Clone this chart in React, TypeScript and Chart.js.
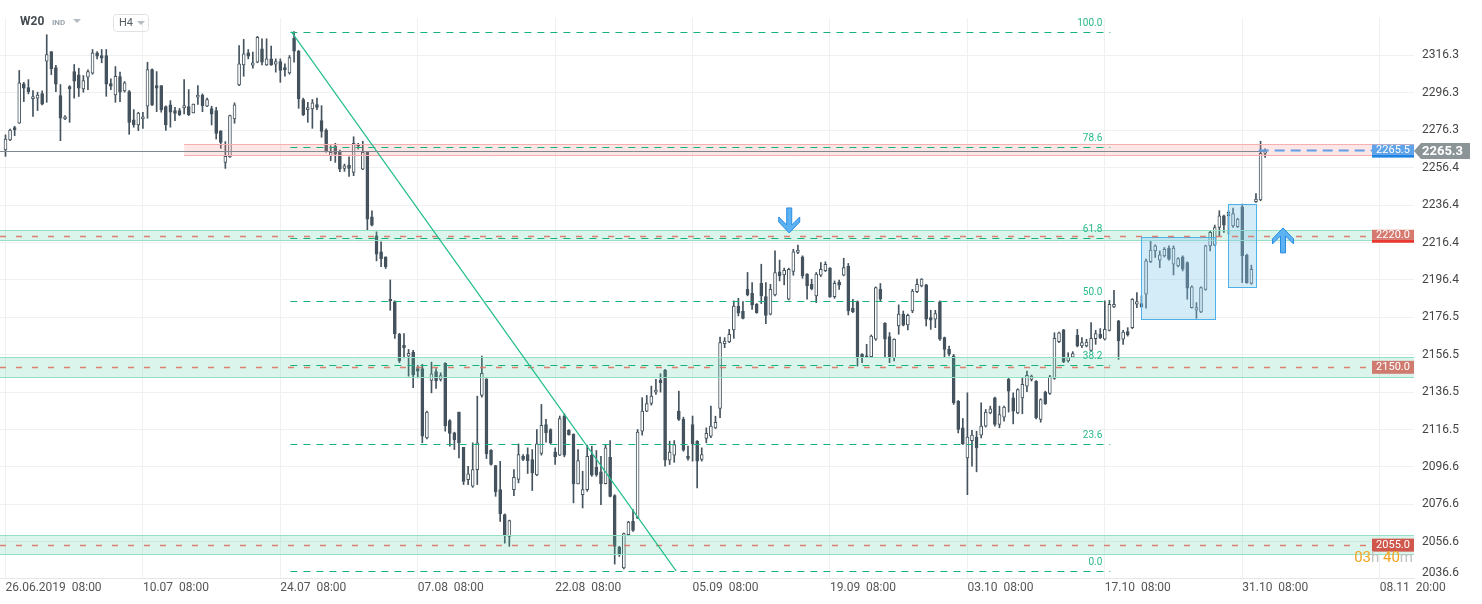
import { useEffect, useRef } from 'react';
import { Chart, registerables } from 'chart.js';

Chart.register(...registerables);

// ---------- data (H4 candles, W20) ----------
const OPEN = [
  2265.8, 2271.2, 2277.8, 2280.1, 2301.1, 2299.2, 2293.3, 2293.5, 2296.0, 2313.3,
  2318.4, 2309.9, 2294.9, 2282.4, 2299.7, 2307.7, 2306.0, 2298.5, 2304.7, 2306.9,
  2317.7, 2316.3, 2316.3, 2301.3, 2295.3, 2305.0, 2297.4, 2297.0, 2281.9, 2279.2,
  2282.4, 2289.2, 2308.8, 2300.2, 2300.2, 2289.0, 2289.9, 2286.9, 2286.9, 2288.3,
  2289.0, 2285.6, 2294.0, 2295.2, 2289.2, 2287.9, 2286.9, 2276.1, 2259.2, 2262.1,
  2282.4, 2300.6, 2311.3, 2317.7, 2311.1, 2312.7, 2319.9, 2311.3, 2314.5, 2311.7,
  2313.1, 2309.9, 2307.0, 2325.6, 2318.6, 2292.8, 2287.4, 2287.8, 2290.1, 2281.5,
  2276.5, 2262.8, 2267.8, 2264.6, 2256.0, 2257.8, 2253.9, 2269.0, 2255.6, 2264.6,
  2230.1, 2220.0, 2211.4, 2208.7, 2186.1, 2184.8, 2167.3, 2161.5, 2155.7, 2157.9,
  2149.0, 2149.0, 2112.0, 2142.7, 2147.4, 2143.2, 2151.8, 2121.3, 2114.7, 2125.8,
  2107.0, 2089.7, 2086.2, 2095.1, 2134.7, 2143.6, 2105.4, 2097.2, 2084.4, 2071.0,
  2059.4, 2084.4, 2089.8, 2102.2, 2103.1, 2100.5, 2092.3, 2103.7, 2119.2, 2116.5,
  2104.4, 2102.8, 2123.7, 2116.0, 2113.9, 2087.4, 2081.7, 2084.4, 2102.8, 2096.4,
  2093.9, 2087.6, 2101.7, 2081.2, 2053.7, 2042.5, 2060.3, 2067.5, 2069.2, 2115.6,
  2126.3, 2130.4, 2136.5, 2142.9, 2148.1, 2100.1, 2102.8, 2126.3, 2121.9, 2102.2,
  2119.2, 2110.3, 2100.5, 2111.7, 2113.0, 2117.4, 2127.8, 2162.4, 2163.3, 2169.7,
  2182.5, 2179.8, 2191.4, 2189.3, 2183.4, 2194.6, 2187.5, 2178.1, 2188.4, 2200.7,
  2199.1, 2186.1, 2200.9, 2211.1, 2208.7, 2199.5, 2194.1, 2187.9, 2198.9, 2201.3,
  2202.7, 2187.5, 2195.3, 2198.9, 2203.7, 2181.3, 2184.8, 2156.7, 2155.8, 2155.4,
  2164.7, 2191.4, 2173.2, 2166.1, 2154.9, 2171.8, 2178.1, 2172.4, 2179.8, 2190.2,
  2193.2, 2193.8, 2176.3, 2175.4, 2184.7, 2165.6, 2159.3, 2155.8, 2131.7, 2117.4,
  2101.3, 2110.6, 2112.4, 2113.5, 2118.3, 2125.4, 2133.4, 2119.2, 2123.1, 2143.3,
  2133.4, 2125.4, 2133.4, 2139.7, 2143.3, 2142.4, 2121.9, 2136.5, 2135.8, 2143.8,
  2163.4, 2169.7, 2153.1, 2155.2, 2166.8, 2161.1, 2161.1, 2158.8, 2165.0, 2167.3,
  2164.7, 2169.5, 2182.0, 2174.5, 2164.7, 2168.8, 2170.9, 2183.4, 2183.8, 2188.8,
  2206.1, 2211.9, 2207.0, 2209.3, 2213.4, 2204.8, 2203.9, 2208.7, 2205.7, 2181.6,
  2180.2, 2179.3, 2191.4, 2214.6, 2215.0, 2224.4, 2230.7, 2230.7, 2225.3, 2224.8,
  2235.5, 2209.6, 2194.6, 2238.2, 2239.1, 2264.0,
];
const HIGH = [
  2273.9, 2277.0, 2278.5, 2308.3, 2302.0, 2303.4, 2297.6, 2296.7, 2297.4, 2327.4,
  2318.4, 2311.0, 2300.8, 2284.2, 2300.2, 2311.5, 2309.5, 2305.6, 2308.6, 2319.5,
  2318.4, 2319.5, 2319.5, 2303.8, 2310.4, 2307.4, 2302.4, 2297.6, 2287.4, 2286.0,
  2286.0, 2312.7, 2309.2, 2307.7, 2300.2, 2289.4, 2292.2, 2288.6, 2288.0, 2303.4,
  2298.1, 2290.4, 2300.2, 2295.8, 2293.5, 2289.2, 2288.6, 2276.1, 2270.3, 2284.5,
  2291.0, 2321.6, 2324.9, 2319.5, 2318.1, 2326.5, 2325.2, 2325.2, 2321.3, 2314.5,
  2314.5, 2311.8, 2316.3, 2329.1, 2319.0, 2293.5, 2291.3, 2292.8, 2293.5, 2289.5,
  2277.1, 2268.1, 2269.4, 2265.8, 2258.3, 2262.2, 2272.9, 2269.4, 2270.5, 2264.6,
  2233.3, 2222.1, 2216.7, 2208.7, 2196.4, 2185.2, 2167.9, 2167.7, 2159.3, 2158.8,
  2150.7, 2151.3, 2126.3, 2152.5, 2149.0, 2146.8, 2152.2, 2121.8, 2115.1, 2125.8,
  2107.0, 2096.9, 2109.4, 2134.3, 2155.7, 2143.6, 2105.8, 2097.4, 2099.5, 2071.4,
  2068.1, 2095.1, 2108.8, 2103.1, 2106.7, 2105.8, 2116.5, 2129.9, 2121.9, 2116.9,
  2106.7, 2123.7, 2124.9, 2116.5, 2114.2, 2105.8, 2094.2, 2108.1, 2107.6, 2105.3,
  2102.2, 2108.5, 2110.6, 2081.7, 2054.1, 2061.2, 2067.5, 2073.7, 2116.5, 2133.5,
  2134.7, 2139.7, 2143.3, 2146.3, 2148.6, 2110.3, 2110.6, 2137.0, 2123.1, 2107.6,
  2123.7, 2110.6, 2106.7, 2117.4, 2129.0, 2123.6, 2165.9, 2165.6, 2170.0, 2185.2,
  2186.6, 2184.8, 2200.4, 2195.0, 2183.8, 2204.8, 2195.0, 2194.1, 2211.9, 2207.0,
  2202.7, 2202.7, 2212.8, 2215.0, 2209.3, 2199.8, 2196.8, 2200.4, 2205.7, 2206.1,
  2203.0, 2195.9, 2196.3, 2208.0, 2205.2, 2186.1, 2185.2, 2157.0, 2162.0, 2167.0,
  2192.7, 2194.5, 2173.6, 2168.3, 2165.0, 2183.1, 2179.8, 2178.1, 2191.4, 2196.8,
  2197.1, 2194.1, 2180.2, 2180.2, 2185.2, 2165.9, 2161.1, 2156.6, 2132.0, 2122.4,
  2136.1, 2116.0, 2115.6, 2130.8, 2127.2, 2129.0, 2133.8, 2129.0, 2129.0, 2143.8,
  2136.1, 2138.3, 2144.2, 2147.7, 2145.6, 2142.7, 2132.9, 2137.0, 2145.4, 2168.2,
  2168.6, 2170.0, 2157.5, 2158.1, 2170.0, 2165.6, 2164.7, 2173.6, 2169.5, 2170.4,
  2185.2, 2185.5, 2190.9, 2174.8, 2169.5, 2170.9, 2186.4, 2189.6, 2187.9, 2207.5,
  2217.3, 2215.2, 2211.9, 2213.7, 2214.6, 2214.6, 2208.4, 2209.3, 2206.1, 2193.2,
  2184.3, 2192.7, 2215.0, 2222.7, 2225.7, 2233.4, 2231.0, 2233.4, 2234.8, 2229.4,
  2236.9, 2210.2, 2204.3, 2242.6, 2270.5, 2266.4,
];
const LOW = [
  2262.4, 2270.8, 2273.5, 2280.0, 2291.7, 2295.8, 2283.8, 2286.9, 2289.9, 2291.3,
  2306.1, 2297.0, 2270.8, 2282.0, 2280.6, 2293.5, 2294.4, 2296.7, 2298.1, 2306.3,
  2314.5, 2312.4, 2294.5, 2298.1, 2291.3, 2291.7, 2296.7, 2274.2, 2278.0, 2276.2,
  2277.4, 2282.8, 2289.5, 2286.3, 2286.0, 2276.3, 2278.0, 2281.5, 2284.2, 2285.1,
  2284.2, 2285.6, 2290.1, 2286.3, 2289.0, 2279.2, 2271.7, 2266.7, 2256.0, 2261.9,
  2280.1, 2300.2, 2305.2, 2314.5, 2309.5, 2312.4, 2311.3, 2311.0, 2311.0, 2307.4,
  2302.0, 2305.2, 2306.3, 2312.7, 2288.1, 2284.2, 2280.6, 2277.4, 2287.4, 2272.6,
  2264.6, 2260.1, 2259.2, 2254.2, 2254.4, 2251.7, 2252.1, 2266.3, 2255.3, 2223.0,
  2225.3, 2206.6, 2203.5, 2202.5, 2180.2, 2165.2, 2152.2, 2154.8, 2145.0, 2138.8,
  2144.1, 2109.4, 2111.5, 2136.1, 2138.4, 2142.4, 2115.6, 2107.6, 2105.8, 2101.3,
  2087.1, 2087.1, 2085.6, 2087.1, 2133.8, 2101.0, 2097.4, 2080.8, 2067.4, 2055.8,
  2054.1, 2081.2, 2088.0, 2099.9, 2093.0, 2083.9, 2091.9, 2102.8, 2109.7, 2108.8,
  2097.8, 2102.6, 2101.9, 2113.5, 2077.3, 2087.4, 2074.6, 2083.5, 2091.5, 2091.5,
  2076.4, 2087.4, 2080.5, 2044.6, 2048.7, 2042.0, 2060.0, 2062.1, 2068.9, 2113.5,
  2126.0, 2129.5, 2135.3, 2136.5, 2096.9, 2097.8, 2099.0, 2121.3, 2104.9, 2100.1,
  2099.6, 2085.3, 2099.6, 2109.4, 2112.1, 2117.0, 2122.8, 2160.2, 2162.9, 2165.2,
  2177.2, 2175.6, 2187.9, 2180.7, 2178.6, 2183.8, 2173.1, 2177.7, 2187.9, 2195.9,
  2193.8, 2185.7, 2198.9, 2210.5, 2197.3, 2186.1, 2191.1, 2184.3, 2198.2, 2200.9,
  2187.0, 2186.6, 2191.3, 2198.6, 2177.7, 2178.9, 2150.4, 2152.2, 2154.9, 2154.9,
  2164.1, 2185.2, 2155.2, 2152.2, 2153.1, 2167.4, 2171.8, 2169.7, 2178.9, 2189.6,
  2192.7, 2171.8, 2170.0, 2170.9, 2164.1, 2155.2, 2155.8, 2129.9, 2114.7, 2108.5,
  2081.7, 2096.9, 2093.9, 2112.0, 2117.8, 2124.9, 2118.3, 2117.4, 2121.0, 2125.8,
  2119.5, 2124.9, 2124.9, 2136.7, 2142.4, 2122.2, 2120.4, 2129.9, 2135.2, 2143.3,
  2162.9, 2152.2, 2152.5, 2154.9, 2160.6, 2160.2, 2160.6, 2158.4, 2162.0, 2165.0,
  2164.3, 2169.1, 2181.6, 2154.0, 2162.0, 2166.4, 2170.4, 2181.6, 2181.6, 2181.3,
  2205.7, 2208.4, 2203.0, 2208.7, 2207.0, 2199.1, 2203.4, 2201.2, 2186.1, 2181.3,
  2175.9, 2178.9, 2190.9, 2211.9, 2214.6, 2220.0, 2221.8, 2220.9, 2224.4, 2224.4,
  2195.0, 2194.6, 2194.1, 2237.8, 2238.7, 2261.9,
];
const CLOSE = [
  2271.7, 2276.5, 2276.5, 2301.7, 2298.8, 2297.0, 2294.4, 2295.2, 2290.3, 2316.8,
  2309.2, 2301.0, 2282.8, 2283.6, 2298.5, 2302.6, 2298.8, 2302.9, 2307.7, 2317.7,
  2316.0, 2314.9, 2301.0, 2299.9, 2305.2, 2296.7, 2301.7, 2280.6, 2279.2, 2285.6,
  2283.5, 2308.8, 2289.9, 2298.8, 2287.2, 2279.2, 2286.0, 2285.4, 2284.7, 2289.5,
  2284.7, 2290.4, 2295.2, 2289.5, 2292.7, 2284.9, 2274.7, 2269.9, 2262.4, 2284.2,
  2289.9, 2311.8, 2317.2, 2316.0, 2312.4, 2326.0, 2312.7, 2314.5, 2311.3, 2313.1,
  2308.3, 2308.6, 2315.2, 2318.6, 2293.1, 2284.7, 2288.5, 2291.0, 2288.6, 2275.8,
  2265.1, 2264.6, 2263.7, 2255.6, 2257.4, 2256.0, 2269.4, 2267.8, 2264.6, 2228.9,
  2225.7, 2210.2, 2207.8, 2203.5, 2185.2, 2167.7, 2153.1, 2160.2, 2157.2, 2145.6,
  2147.7, 2112.9, 2125.8, 2146.3, 2142.4, 2145.3, 2118.6, 2114.4, 2111.1, 2109.4,
  2088.8, 2092.8, 2095.1, 2109.4, 2146.5, 2103.6, 2097.8, 2083.1, 2071.5, 2059.9,
  2067.8, 2091.0, 2103.1, 2100.5, 2099.9, 2093.3, 2108.8, 2118.8, 2114.7, 2109.4,
  2101.9, 2122.4, 2102.8, 2113.7, 2087.4, 2099.9, 2084.4, 2102.2, 2092.1, 2092.4,
  2087.6, 2106.7, 2080.8, 2054.1, 2050.2, 2060.9, 2067.1, 2062.6, 2115.1, 2126.3,
  2130.4, 2134.4, 2137.6, 2141.5, 2100.1, 2104.4, 2108.5, 2121.9, 2105.5, 2101.0,
  2109.0, 2099.6, 2103.1, 2114.4, 2118.3, 2120.4, 2162.9, 2163.8, 2167.3, 2182.5,
  2178.6, 2175.9, 2188.4, 2182.9, 2178.9, 2187.9, 2177.5, 2191.4, 2200.4, 2198.6,
  2201.6, 2202.1, 2211.4, 2212.3, 2198.6, 2193.2, 2191.8, 2199.5, 2202.1, 2204.8,
  2187.3, 2194.6, 2193.6, 2203.0, 2179.8, 2179.3, 2155.4, 2154.9, 2154.9, 2166.4,
  2192.3, 2186.1, 2164.7, 2155.2, 2164.7, 2178.1, 2172.2, 2177.5, 2190.5, 2194.1,
  2196.8, 2175.4, 2174.9, 2178.4, 2164.7, 2159.3, 2156.7, 2130.8, 2116.5, 2108.8,
  2112.4, 2113.5, 2106.7, 2118.3, 2125.8, 2127.6, 2119.2, 2124.5, 2128.5, 2137.0,
  2126.3, 2137.9, 2140.6, 2145.4, 2145.0, 2122.8, 2132.5, 2130.2, 2144.7, 2165.2,
  2168.2, 2152.7, 2154.9, 2157.0, 2161.1, 2162.9, 2163.2, 2165.2, 2167.7, 2165.6,
  2170.0, 2183.4, 2183.4, 2163.8, 2168.6, 2167.0, 2186.1, 2184.8, 2182.0, 2206.6,
  2212.3, 2214.6, 2209.8, 2212.8, 2207.5, 2213.4, 2207.8, 2202.1, 2192.0, 2192.7,
  2181.6, 2192.3, 2214.6, 2221.8, 2224.4, 2230.7, 2225.7, 2232.5, 2231.9, 2228.9,
  2209.3, 2195.0, 2202.1, 2239.6, 2264.0, 2265.3,
];

const X_TICK_INDEX = [0, 30, 60, 90, 120, 150, 180, 210, 240, 270, 300];
const X_TICK_LABELS = [
  '26.06.2019  08:00', '10.07  08:00', '24.07  08:00', '07.08  08:00', '22.08  08:00',
  '05.09  08:00', '19.09  08:00', '03.10  08:00', '17.10  08:00', '31.10  08:00', '08.11  20:00',
];
const Y_TICK_LABELS = [
  '2316.3', '2296.3', '2276.3', '2256.4', '2236.4', '2216.4', '2196.4', '2176.5',
  '2156.5', '2136.5', '2116.5', '2096.6', '2076.6', '2056.6', '2036.6',
];

// horizontal levels (support/resistance) with their labels
const LEVELS = [2220.0, 2150.0, 2055.0];
const LEVEL_LABELS = ['2220.0', '2150.0', '2055.0'];
// zones
const ZONE_LOW = [2263.2, 2217.8, 2144.5, 2050.2];
const ZONE_HIGH = [2269.0, 2223.2, 2155.0, 2060.3];
const ZONE_FROM = [39.0, -2, -2, -2];
// Fibonacci retracement
const FIB_HIGH = 2329.1;
const FIB_LOW = 2041.0;
const FIB_FROM = 62.2;
const FIB_TO = 241.2;
const FIB_RATIOS = [1, 0.786, 0.618, 0.5, 0.382, 0.236, 0];
const FIB_LABELS = ['100.0', '78.6', '61.8', '50.0', '38.2', '23.6', '0.0'];
// trend line
const TREND_FROM = [62.4, 2329.1];
const TREND_TO = [146.4, 2041.0];
// rectangles
const RECT_X0 = [247.9, 267.0];
const RECT_X1 = [264.1, 273.0];
const RECT_TOP = [2219.5, 2237.0];
const RECT_BOTTOM = [2175.4, 2192.5];
// arrows (price = tip of the arrow)
const ARROW_INDEX = [171.1, 278.9];
const ARROW_PRICE = [2221.5, 2224.2];
const ARROW_DIR = ['down', 'up'];
// prices
const LAST_PRICE = 2265.3;
const ALERT_PRICE = 2265.5;
const ALERT_FROM = 273.6;
const COUNTDOWN = ['03', 'h', ' 40', 'm'];

const X_MIN = -1.2;
const X_MAX = 307.5;
const Y_MIN = 2037.18;
const Y_MAX = 2336.33;

const CANDLE = '#44535e';
const FONT = 'Roboto, "Noto Sans", sans-serif';
// arrow outline, tip at (0,0), body extends along +dy
const ARROW_SHAPE = [
  [0, 0], [10.5, 11], [10.5, 16], [2.5, 8], [2.5, 25],
  [-2.5, 25], [-2.5, 8], [-10.5, 16], [-10.5, 11],
];

const overlay = {
  id: 'overlay',
  afterDatasetsDraw(chart: any) {
    const { ctx, chartArea: a, scales } = chart;
    const sx = scales.x;
    const sy = scales.y;
    const X = (v: number) => sx.getPixelForValue(v);
    const Y = (v: number) => sy.getPixelForValue(v);
    const hline = (x0: number, x1: number, yy: number) => {
      ctx.beginPath();
      ctx.moveTo(x0, yy);
      ctx.lineTo(x1, yy);
      ctx.stroke();
    };
    const boxW = 42;
    ctx.save();

    // zones
    ZONE_LOW.forEach((lo, k) => {
      const x0 = Math.max(a.left, X(ZONE_FROM[k]));
      const yT = Math.round(Y(ZONE_HIGH[k])) + 0.5;
      const yB = Math.round(Y(lo)) + 0.5;
      const pink = k === 0;
      ctx.fillStyle = pink ? 'rgba(245,140,140,0.22)' : 'rgba(80,205,160,0.2)';
      ctx.fillRect(x0, yT, a.right - x0, yB - yT);
      ctx.strokeStyle = pink ? '#f5b1b1' : '#94e0c3';
      ctx.lineWidth = 1;
      ctx.setLineDash([]);
      hline(x0, a.right, yT);
      hline(x0, a.right, yB);
    });

    // rectangles
    RECT_X0.forEach((x0v, k) => {
      const x0 = Math.round(X(x0v)) + 0.5;
      const x1 = Math.round(X(RECT_X1[k])) + 0.5;
      const y0 = Math.round(Y(RECT_TOP[k])) + 0.5;
      const y1 = Math.round(Y(RECT_BOTTOM[k])) + 0.5;
      ctx.fillStyle = 'rgba(135,200,236,0.36)';
      ctx.fillRect(x0, y0, x1 - x0, y1 - y0);
      ctx.strokeStyle = '#4db2e8';
      ctx.lineWidth = 1;
      ctx.strokeRect(x0, y0, x1 - x0, y1 - y0);
    });

    // red dashed levels
    ctx.setLineDash([6, 10]);
    ctx.strokeStyle = 'rgba(222,115,102,0.9)';
    ctx.lineWidth = 1.5;
    LEVELS.forEach((lv) => hline(a.left, a.right - boxW, Math.round(Y(lv)) + 0.5));

    // fib levels
    ctx.setLineDash([7, 6]);
    ctx.strokeStyle = '#14b27c';
    ctx.lineWidth = 1;
    ctx.font = `10px ${FONT}`;
    ctx.fillStyle = '#27b88a';
    ctx.textAlign = 'right';
    ctx.textBaseline = 'middle';
    FIB_RATIOS.forEach((r, k) => {
      const p = FIB_LOW + r * (FIB_HIGH - FIB_LOW);
      const yy = Math.round(Y(p)) + 0.5;
      ctx.strokeStyle = '#14b27c';
      hline(X(FIB_FROM), X(FIB_TO), yy);
      ctx.fillText(FIB_LABELS[k], X(FIB_TO) - 8, yy - 9);
    });
    ctx.setLineDash([]);

    // trend line
    ctx.strokeStyle = '#21bd8b';
    ctx.lineWidth = 1.2;
    ctx.beginPath();
    ctx.moveTo(X(TREND_FROM[0]), Y(TREND_FROM[1]));
    ctx.lineTo(X(TREND_TO[0]), Y(TREND_TO[1]));
    ctx.stroke();

    // last price line
    ctx.strokeStyle = '#7e8a90';
    ctx.lineWidth = 1;
    hline(a.left, X(OPEN.length - 1) + 2, Math.round(Y(LAST_PRICE)) + 0.5);

    // alert dashed line
    ctx.setLineDash([10, 6]);
    ctx.strokeStyle = '#5d9fe6';
    ctx.lineWidth = 2;
    hline(X(ALERT_FROM), a.right - boxW, Y(ALERT_PRICE));
    ctx.setLineDash([]);

    // level label boxes
    const drawTag = (yc: number, text: string, bg: string, bar: string | null) => {
      const x0 = a.right - boxW;
      ctx.fillStyle = bg;
      if (bar) {
        ctx.fillRect(x0, yc - 6, boxW, 10);
        ctx.fillStyle = bar;
        ctx.fillRect(x0, yc + 4, boxW, 3);
      } else {
        ctx.fillRect(x0, yc - 6, boxW, 13);
      }
      ctx.fillStyle = '#ffffff';
      ctx.font = `11px ${FONT}`;
      ctx.textAlign = 'center';
      ctx.textBaseline = 'middle';
      ctx.fillText(text, x0 + boxW / 2, bar ? yc - 0.5 : yc + 0.5);
    };
    drawTag(Y(ALERT_PRICE), ALERT_PRICE.toFixed(1), '#5fa3e8', '#1e85e4');
    const tagBg = ['#d67a70', '#cf7b70', '#d0574c'];
    LEVELS.forEach((lv, k) => drawTag(Y(lv), LEVEL_LABELS[k], tagBg[k], k === 0 ? '#e8382f' : null));

    // arrows
    ARROW_INDEX.forEach((iv, k) => {
      const cx = X(iv);
      const ty = Y(ARROW_PRICE[k]);
      const dir = ARROW_DIR[k] === 'down' ? -1 : 1;
      ctx.beginPath();
      ARROW_SHAPE.forEach(([dx, dy], j) => {
        const px = cx + dx;
        const py = ty + dir * dy;
        if (j === 0) ctx.moveTo(px, py);
        else ctx.lineTo(px, py);
      });
      ctx.closePath();
      ctx.fillStyle = '#5db2f2';
      ctx.fill();
      ctx.strokeStyle = '#2a8ce2';
      ctx.lineWidth = 1;
      ctx.stroke();
    });

    // current price tag on axis
    const yp = Y(LAST_PRICE);
    ctx.fillStyle = '#8b9497';
    ctx.beginPath();
    ctx.moveTo(a.right, yp);
    ctx.lineTo(a.right + 7, yp - 8);
    ctx.lineTo(a.right + 56, yp - 8);
    ctx.lineTo(a.right + 56, yp + 8);
    ctx.lineTo(a.right + 7, yp + 8);
    ctx.closePath();
    ctx.fill();
    ctx.fillStyle = '#ffffff';
    ctx.font = `bold 13px ${FONT}`;
    ctx.textAlign = 'left';
    ctx.textBaseline = 'middle';
    ctx.fillText(LAST_PRICE.toFixed(1), a.right + 8, yp + 0.5);

    // bottom y label
    ctx.fillStyle = '#444444';
    ctx.font = `12px ${FONT}`;
    ctx.fillText(Y_TICK_LABELS[Y_TICK_LABELS.length - 1], a.right + 8, a.bottom - 5);

    // countdown
    ctx.font = `15px ${FONT}`;
    ctx.textBaseline = 'middle';
    const widths = COUNTDOWN.map((t) => ctx.measureText(t).width);
    let cx = a.right - 1 - widths.reduce((p, w) => p + w, 0);
    COUNTDOWN.forEach((t, k) => {
      ctx.fillStyle = k % 2 === 0 ? '#f5a31f' : '#c2c2c2';
      ctx.fillText(t, cx, a.bottom - 20);
      cx += widths[k];
    });

    // header
    ctx.fillStyle = '#444b52';
    ctx.font = `bold 12px ${FONT}`;
    ctx.fillText('W20', 20, 22);
    ctx.fillStyle = '#9aa4ad';
    ctx.font = `bold 8px ${FONT}`;
    ctx.fillText('IND', 52, 23);
    const tri = (x: number, y: number, c: string) => {
      ctx.fillStyle = c;
      ctx.beginPath();
      ctx.moveTo(x, y);
      ctx.lineTo(x + 8, y);
      ctx.lineTo(x + 4, y + 4);
      ctx.closePath();
      ctx.fill();
    };
    tri(73, 19, '#b4bcc4');
    ctx.strokeStyle = '#e0e3e6';
    ctx.lineWidth = 1;
    ctx.beginPath();
    ctx.roundRect(113.5, 14.5, 35, 17, 3);
    ctx.stroke();
    ctx.fillStyle = '#555d64';
    ctx.font = `11px ${FONT}`;
    ctx.fillText('H4', 119, 23);
    tri(137, 21, '#b4bcc4');

    ctx.restore();
  },
};

export default function App() {
  const ref = useRef<HTMLCanvasElement>(null);
  useEffect(() => {
    const canvas = ref.current;
    if (!canvas) return;
    const idx = OPEN.map((_, i) => i);
    const wickData = idx.map((i) => ({ x: i, y: [LOW[i], HIGH[i]] }));
    const bodyData = idx.map((i) => {
      let lo = Math.min(OPEN[i], CLOSE[i]);
      let hi = Math.max(OPEN[i], CLOSE[i]);
      if (hi - lo < 0.8) {
        const m = (hi + lo) / 2;
        lo = m - 0.4;
        hi = m + 0.4;
      }
      return { x: i, y: [lo, hi] };
    });
    const bodyColors = idx.map((i) => (CLOSE[i] >= OPEN[i] ? '#ffffff' : CANDLE));
    const yTicks = Y_TICK_LABELS.map(Number);

    const chart = new Chart(canvas, {
      type: 'bar',
      data: {
        datasets: [
          {
            label: 'body',
            data: bodyData as any,
            backgroundColor: bodyColors,
            borderColor: CANDLE,
            borderWidth: 1,
            borderSkipped: false,
            barThickness: 3,
            grouped: false,
            order: 0,
          },
          {
            label: 'wick',
            data: wickData as any,
            backgroundColor: CANDLE,
            borderWidth: 0,
            barThickness: 1,
            grouped: false,
            order: 1,
          },
        ],
      },
      options: {
        responsive: false,
        animation: false,
        devicePixelRatio: 1,
        layout: { padding: { top: 18, left: 0, right: 0, bottom: 0 } },
        plugins: { legend: { display: false }, tooltip: { enabled: false } },
        scales: {
          x: {
            type: 'linear',
            min: X_MIN,
            max: X_MAX,
            offset: false,
            afterBuildTicks: (s: any) => {
              s.ticks = X_TICK_INDEX.map((v) => ({ value: v }));
            },
            afterFit: (s: any) => {
              s.height = 26;
            },
            grid: { color: '#f0f0f0', drawTicks: false, offset: false },
            border: { display: true, color: '#e6e6e6' },
            ticks: {
              autoSkip: false,
              maxRotation: 0,
              minRotation: 0,
              align: 'start',
              padding: 3,
              color: '#555555',
              font: { family: FONT, size: 12 },
              callback: (v: any) => {
                const k = X_TICK_INDEX.indexOf(Number(v));
                return k >= 0 ? X_TICK_LABELS[k] : '';
              },
            },
          },
          y: {
            type: 'linear',
            position: 'right',
            min: Y_MIN,
            max: Y_MAX,
            afterBuildTicks: (s: any) => {
              s.ticks = yTicks.filter((v) => v >= Y_MIN && v <= Y_MAX).map((v) => ({ value: v }));
            },
            afterFit: (s: any) => {
              s.width = 68;
            },
            grid: { color: '#f0f0f0', drawTicks: false },
            border: { display: false },
            ticks: {
              padding: 8,
              color: '#444444',
              font: { family: FONT, size: 12 },
              callback: (v: any) => Number(v).toFixed(1),
            },
          },
        },
      } as any,
      plugins: [overlay],
    });
    return () => chart.destroy();
  }, []);

  return (
    <div style={{ position: 'absolute', left: 0, top: 0, width: 1482, height: 604, background: '#ffffff' }}>
      <canvas ref={ref} width={1482} height={604} style={{ display: 'block', width: 1482, height: 604 }} />
    </div>
  );
}
